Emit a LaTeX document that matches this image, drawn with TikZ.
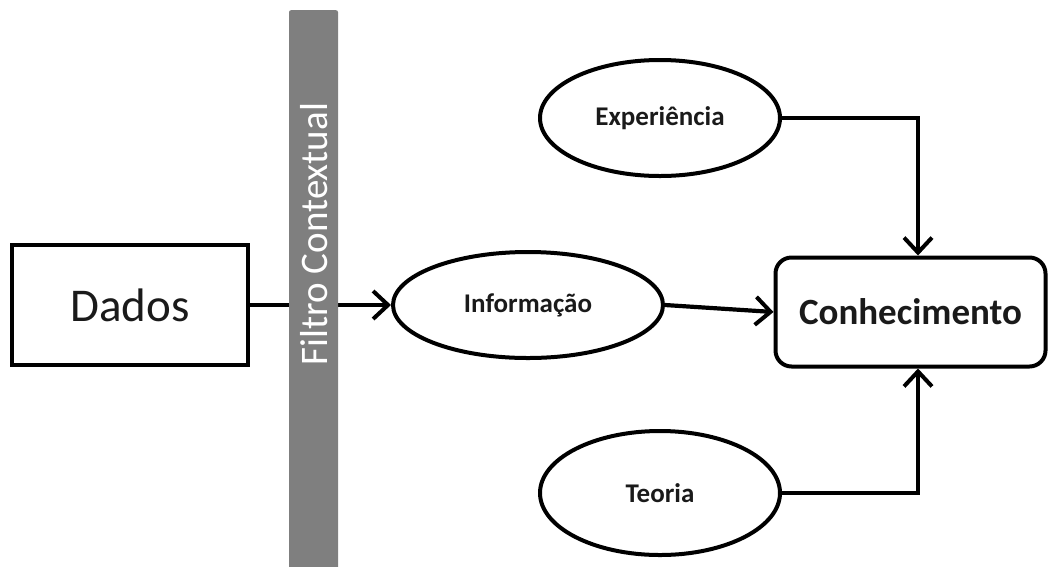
\documentclass[tikz,border=0pt]{standalone}
\usepackage{fontspec}
\setmainfont{Carlito}
\usetikzlibrary{arrows.meta,shapes.geometric}
\definecolor{bargray}{HTML}{7F7F7F}
\definecolor{ink}{HTML}{1A1A1A}
\tikzset{
  conn/.style={line width=4.2pt, -{Straight Barb[length=15pt,width=28pt,line width=4pt]}},
  databox/.style={draw, line width=4.5pt, minimum width=236pt, minimum height=120pt, inner sep=0pt, text=ink, font=\fontsize{47}{52}\selectfont},
  oval/.style={draw, ellipse, line width=4pt, inner sep=0pt, text=ink, font=\bfseries\fontsize{27}{32}\selectfont},
  knowbox/.style={draw, rounded corners=16pt, line width=4pt, minimum width=270pt, minimum height=109pt, inner sep=0pt, text=ink, font=\bfseries\fontsize{37}{42}\selectfont},
  filterbar/.style={fill=bargray, rounded corners=2pt, minimum width=49pt, minimum height=580pt, inner sep=0pt},
  filtertext/.style={text=white, rotate=90, inner sep=0pt, font=\fontsize{39}{44}\selectfont}
}
\begin{document}
\begin{tikzpicture}[x=1pt,y=-1pt]
\useasboundingbox (0,0) rectangle (1049,566);
\node[databox] (dados) at (130,305) {Dados};
\node[oval, minimum width=270pt, minimum height=106pt] (info) at (528,305) {Informação};
\node[knowbox] (conh) at (910.5,312) {Conhecimento};
\node[oval, minimum width=240pt, minimum height=116pt] (exp) at (660,118) {Experiência};
\node[oval, minimum width=240pt, minimum height=124pt] (teo) at (660,493) {Teoria};
\draw[conn] (dados.east) -- (info.west);
\node[filterbar, anchor=north] (bar) at (313.5,10) {};
\node[filtertext] (bartext) at (314,234) {Filtro Contextual};
\draw[conn] (info.east) -- (conh.west);
\draw[conn] (exp.east) -| ([xshift=7.5pt]conh.north);
\draw[conn] (teo.east) -| ([xshift=7.5pt]conh.south);
\end{tikzpicture}
\end{document}
